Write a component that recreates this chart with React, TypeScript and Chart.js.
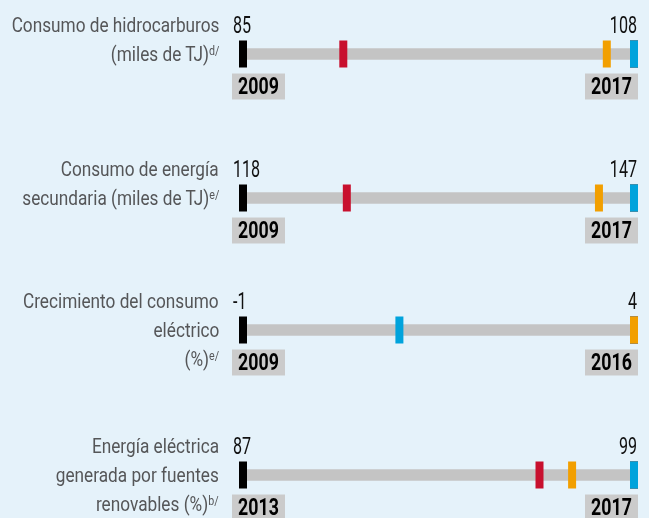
import React, { useEffect, useRef } from "react";
import { Chart, registerables } from "chart.js";

Chart.register(...registerables);

// ---- data ----
const labelLines: string[][] = [
  ["Consumo de hidrocarburos", "(miles de TJ)"],
  ["Consumo de energía", "secundaria (miles de TJ)"],
  ["Crecimiento del consumo", "eléctrico", "(%)"],
  ["Energía eléctrica", "generada por fuentes", "renovables (%)"],
];
const labelNotes: string[] = ["d/", "e/", "e/", "b/"];
const startValues: number[] = [85, 118, -1, 87];
const endValues: number[] = [108, 147, 4, 99];
const startYears: string[] = ["2009", "2009", "2009", "2013"];
const endYears: string[] = ["2017", "2017", "2016", "2017"];
const redValues: (number | null)[] = [90.9, 125.7, null, 96.1];
const orangeValues: (number | null)[] = [106.4, 144.4, 4, 97.1];
const blueValues: (number | null)[] = [108, 147, 1.0, 99];

// ---- layout / style ----
const W = 649;
const H = 518;
const ROW_H = 130;
const rowCenters = [53.5, 197.5, 329.5, 474.5];
const FONT = "Roboto, 'Noto Sans', sans-serif";
const BG = "#e5f2fa";
const TRACK = "#c4c4c4";
const RED = "#c8102e";
const ORANGE = "#f29f00";
const BLUE = "#00a3dc";
const BLACK = "#000000";
const LABEL_SX = 0.82;
const NUM_SX = 0.7;
const YEAR_SX = 0.74;

function marker(v: number | null, color: string) {
  return {
    type: "line" as const,
    data: v === null ? [] : [{ x: v, y: "r" }],
    showLine: false,
    pointStyle: "line" as const,
    pointRotation: 90,
    pointRadius: 13.5,
    pointHoverRadius: 13.5,
    pointBorderWidth: 8,
    pointBorderColor: color,
    pointBackgroundColor: color,
    clip: false as const,
  };
}

function squeezedText(
  ctx: CanvasRenderingContext2D,
  text: string,
  x: number,
  y: number,
  sx: number
) {
  ctx.save();
  ctx.translate(x, y);
  ctx.scale(sx, 1);
  ctx.fillText(text, 0, 0);
  ctx.restore();
}

function Row({ i }: { i: number }) {
  const ref = useRef<HTMLCanvasElement | null>(null);
  useEffect(() => {
    if (!ref.current) return;
    const textPlugin = {
      id: "rowText" + i,
      afterDraw(chart: any) {
        const ctx = chart.ctx as CanvasRenderingContext2D;
        const xs = chart.scales.x.getPixelForValue(startValues[i]);
        const xe = chart.scales.x.getPixelForValue(endValues[i]);
        const yc = chart.scales.y.getPixelForValue(0);
        ctx.save();
        ctx.fillStyle = "#111111";
        ctx.font = `23px ${FONT}`;
        ctx.textBaseline = "alphabetic";
        ctx.textAlign = "left";
        squeezedText(ctx, String(startValues[i]), xs - 10, yc - 21.5, NUM_SX);
        ctx.textAlign = "right";
        squeezedText(ctx, String(endValues[i]), xe + 3, yc - 21.5, NUM_SX);
        // year boxes
        const bw = 53, bh = 26, by = yc + 19.5;
        const bx1 = xs - 11, bx2 = xe + 4 - bw;
        ctx.fillStyle = "#cbcbcb";
        ctx.fillRect(bx1, by, bw, bh);
        ctx.fillRect(bx2, by, bw, bh);
        ctx.fillStyle = "#000000";
        ctx.font = `bold 24px ${FONT}`;
        ctx.textAlign = "center";
        ctx.textBaseline = "middle";
        squeezedText(ctx, startYears[i], bx1 + bw / 2, by + bh / 2 + 1, YEAR_SX);
        squeezedText(ctx, endYears[i], bx2 + bw / 2, by + bh / 2 + 1, YEAR_SX);
        ctx.restore();
      },
    };
    const chart = new Chart(ref.current, {
      type: "bar",
      data: {
        labels: ["r"],
        datasets: [
          marker(blueValues[i], BLUE),
          marker(orangeValues[i], ORANGE),
          marker(redValues[i], RED),
          marker(endValues[i], BLACK),
          marker(startValues[i], BLACK),
          {
            type: "bar" as const,
            data: [[startValues[i], endValues[i]]],
            backgroundColor: TRACK,
            borderWidth: 0,
            barThickness: 11,
            grouped: false,
          } as any,
        ],
      } as any,
      options: {
        indexAxis: "y",
        responsive: false,
        animation: false,
        devicePixelRatio: 1,
        events: [],
        layout: { autoPadding: false, padding: { left: 243, right: 15, top: 0, bottom: 0 } },
        scales: {
          x: { type: "linear", min: startValues[i], max: endValues[i], display: false },
          y: { type: "category", display: false },
        },
        plugins: { legend: { display: false }, tooltip: { enabled: false } },
      } as any,
      plugins: [textPlugin],
    });
    return () => chart.destroy();
  }, [i]);

  const top = rowCenters[i] - ROW_H / 2;
  const lines = labelLines[i];
  return (
    <div style={{ position: "absolute", left: 0, top, width: W, height: ROW_H }}>
      <canvas
        ref={ref}
        width={W}
        height={ROW_H}
        style={{ position: "absolute", left: 0, top: 0, width: W, height: ROW_H }}
      />
      <div
        style={{
          position: "absolute",
          right: 430,
          top: ROW_H / 2 - 43,
          textAlign: "right",
          whiteSpace: "nowrap",
          fontFamily: FONT,
          fontSize: 21,
          lineHeight: "29px",
          color: "#555658",
        }}
      >
        {lines.map((ln, k) => (
          <div key={k} style={{ height: 29 }}>
            <span
              style={{
                display: "inline-block",
                transform: `scaleX(${LABEL_SX})`,
                transformOrigin: "right center",
              }}
            >
              {ln}
              {k === lines.length - 1 ? (
                <sup style={{ fontSize: 13, lineHeight: 0, verticalAlign: "6px" }}>{labelNotes[i]}</sup>
              ) : null}
            </span>
          </div>
        ))}
      </div>
    </div>
  );
}

export default function App() {
  return (
    <div
      style={{
        position: "absolute",
        left: 0,
        top: 0,
        width: W,
        height: H,
        background: BG,
        overflow: "hidden",
      }}
    >
      {[0, 1, 2, 3].map((i) => (
        <Row key={i} i={i} />
      ))}
    </div>
  );
}
